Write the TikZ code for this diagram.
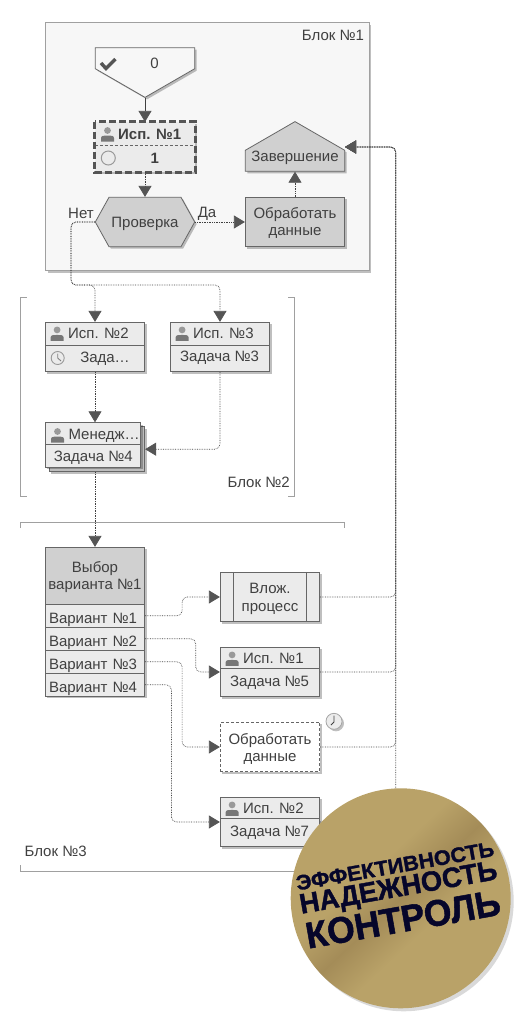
\documentclass[tikz,border=0pt]{standalone}
\usepackage{fontspec}
\setmainfont{Liberation Sans}
\newfontfamily\badgefont{Liberation Sans}[BoldFeatures={FakeBold=1.4}]
\usetikzlibrary{positioning, shapes.symbols, shadows, arrows.meta}

\definecolor{textgray}{HTML}{404040}
\definecolor{linegray}{HTML}{666666}
\definecolor{tipgray}{HTML}{555555}
\definecolor{framegray}{HTML}{A0A0A0}
\definecolor{boxfill}{HTML}{EBEBEB}
\definecolor{darkfill}{HTML}{D0D0D0}
\definecolor{blockfill}{HTML}{F7F7F7}
\definecolor{stackfill}{HTML}{BDBDBD}
\definecolor{badgelight}{HTML}{B9A268}
\definecolor{badgedark}{HTML}{A48C58}
\definecolor{badgetext}{HTML}{06062A}

\pgfdeclareverticalshading{badgeshade}{100bp}{color(0bp)=(badgelight); color(25bp)=(badgelight); color(41bp)=(badgelight); color(50bp)=(badgedark); color(59bp)=(badgelight); color(75bp)=(badgelight); color(100bp)=(badgelight)}

\begin{document}
\begin{tikzpicture}[
    x=1pt, y=-1pt,
    font=\fontsize{15}{17.5}\selectfont,
    text=textgray,
    % Define the shadow of the boxes
    boxshadow/.style={drop shadow={shadow xshift=2pt, shadow yshift=-2pt, opacity=.25, fill=black}},
    % Define the styles of the boxes
    taskbox/.style={rectangle, draw=linegray, fill=boxfill, line width=.8pt, minimum width=99.4pt, minimum height=49.4pt, inner sep=0pt, boxshadow},
    darkbox/.style={taskbox, fill=darkfill},
    varbox/.style={taskbox, minimum height=23pt, text width=92pt, align=left, text height=15pt, text depth=0pt},
    signalbox/.style={signal, draw=linegray, line width=.8pt, signal pointer angle=120, minimum width=99.4pt, minimum height=21pt, inner sep=0pt, boxshadow},
    label/.style={inner sep=0pt, text height=11pt, text depth=3pt},
    textblock/.style={inner sep=0pt, align=center},
    bracket/.style={framegray, line width=.8pt},
    % Define the connectors
    flow/.style={densely dotted, line width=.7pt, draw=textgray, rounded corners=5pt, -{Triangle[length=11pt, width=13pt, color=tipgray]}},
    solidflow/.style={flow, solid},
    badgeline/.style={inner sep=0pt, rotate=10, text=badgetext, font=\badgefont\bfseries},
    personicon/.pic={
        \fill[gray!80] (0,-3.5) circle (3.4);
        \fill[tipgray!80] (-6.5,7.5) -- (-6.5,4) .. controls (-6.5,1.5) and (-3,1.5) .. (0,1.5) .. controls (3,1.5) and (6.5,1.5) .. (6.5,4) -- (6.5,7.5) -- cycle;
    }
]
    \useasboundingbox (0,0) rectangle (527,1023);

    % --- Block 1 ---
    \node[rectangle, draw=framegray, fill=blockfill, line width=.8pt, minimum width=323.4pt, minimum height=248pt, inner sep=0pt, boxshadow] (block1) at (207.4,146.7) {};
    \node[label] (block1label) at (333,36.5) {Блок №1};

    \node[signalbox, signal to=south, anchor=north, fill=blockfill] (start) at (145,47.3) {};
    \draw[tipgray, line width=3.4pt] (101,63) -- (106,68.5) -- (115.5,59);
    \node[label] (startlabel) at (154.5,64) {0};

    \node[taskbox, draw=none] (t1) at (145,147) {};
    \draw[linegray, densely dashed, line width=.6pt] (t1.north west) ++(0,23.4) -- ++(99.4,0);
    \draw[tipgray, line width=3pt, dash pattern=on 7pt off 3pt] (t1.north west) rectangle (t1.south east);
    \pic at (107.5,134) {personicon};
    \node[label, anchor=west, font=\fontsize{15}{17.5}\selectfont\bfseries] (t1who) at (118,135) {Исп. №1};
    \node[circle, draw=gray!80, line width=1pt, minimum size=14pt, inner sep=0pt] (t1mark) at (108.3,158) {};
    \node[label, font=\fontsize{15}{17.5}\selectfont\bfseries] (t1what) at (154.7,159) {1};

    \node[signalbox, signal to=east and west, signal pointer angle=122, fill=darkfill, minimum height=49.4pt] (check) at (145,222) {};
    \node[label] (checklabel) at (145,223) {Проверка};
    \node[darkbox] (work) at (295,222) {};
    \node[textblock] (worklabel) at (295,223) {Обработать\\данные};
    \node[signalbox, signal to=north, anchor=south, fill=darkfill] (finish) at (295,171.7) {};
    \coordinate (finishport) at (345,147);
    \node[label] (finishlabel) at (295,157) {Завершение};
    \node[label] (no) at (81,214) {Нет};
    \node[label] (yes) at (207,213) {Да};

    \draw[solidflow] (start.south) -- (t1.north);
    \draw[flow] (t1.south) -- (check.north);
    \draw[flow] (check.east) -- (work.west);
    \draw[flow] (work.north) -- (finish.south);

    % --- Block 2 ---
    \draw[bracket] (26.7,297.3) -- (20.7,297.3) -- (20.7,496.7) -- (26.7,496.7);
    \draw[bracket] (288.3,297.3) -- (294.3,297.3) -- (294.3,496.7) -- (288.3,496.7);
    \node[label] (block2label) at (258.7,483) {Блок №2};

    % name / centre x / centre y / divider / role / task
    \foreach \name/\cx/\cy/\split/\who/\what in {
        t2/95/347/23/Исп. №2/{},
        t3/220/347/23/Исп. №3/Задача №3,
        t5/270/672/21/Исп. №1/Задача №5,
        t7/270/822/21/Исп. №2/Задача №7} {
        \node[taskbox] (\name) at (\cx,\cy) {};
        \draw[linegray, line width=.8pt] (\name.north west) ++(0,\split) -- ++(99.4,0);
        \path (\name.north west) ++(12.2,11.5) pic {personicon};
        \path (\name.north west) ++(23,12.5) node[label, anchor=west] (\name who) {\who};
        \path (\name.north west) ++(49.7,36) node[label] (\name what) {\what};
    }
    \node[label] (t2what) at (105,358) {Зада…};
    \node[circle, draw=gray!80, fill=boxfill, line width=.9pt, minimum size=13pt, inner sep=0pt] (t2clock) at (57.7,358) {};
    \draw[gray, line width=.9pt] (57.7,353.5) -- (57.7,358) -- (61,361);

    \node[taskbox, fill=stackfill, minimum width=95.4pt, minimum height=45pt] (t4back) at (97,449.2) {};
    \node[taskbox, minimum width=95.4pt, minimum height=44.6pt] (t4) at (93,445) {};
    \draw[linegray, line width=.8pt] (t4.north west) ++(0,22.3) -- ++(95.4,0);
    \pic at (57.5,435) {personicon};
    \node[label, anchor=west] (t4who) at (68.3,435.5) {Менедж…};
    \node[label] (t4what) at (93.3,457) {Задача №4};

    % --- Block 3 ---
    \draw[bracket] (20.7,528) -- (20.7,522.3) -- (344,522.3) -- (344,528);
    \draw[bracket] (20.7,865) -- (20.7,871.3) -- (344,871.3) -- (344,865);
    \node[label] (block3label) at (55.7,852) {Блок №3};

    \node[darkbox, minimum height=57pt] (choice) at (95,575.8) {};
    \node[textblock] (choicelabel) at (95,577) {Выбор\\варианта №1};
    \foreach \i/\cy in {1/615.8, 2/638.8, 3/661.8, 4/684.8} {
        \node[varbox] (v\i) at (95,\cy) {Вариант №\i};
    }

    \node[taskbox] (proc) at (270,597) {};
    \node[textblock] (proclabel) at (270,599) {Влож.\\процесс};
    \draw[linegray, line width=.8pt] (proc.north west) ++(13,0) -- ++(0,49.4);
    \draw[linegray, line width=.8pt] (proc.north east) ++(-13.4,0) -- ++(0,49.4);

    \node[taskbox, fill=white, densely dashed] (work2) at (270,747) {};
    \node[textblock] (work2label) at (270,749) {Обработать\\данные};
    \node[circle, draw=gray!70, fill=gray!15, line width=.8pt, minimum size=16pt, inner sep=0pt, boxshadow] (work2clock) at (334,721.3) {};
    \draw[textgray, line width=.8pt] (334,715.5) -- (334,722) -- (331,725);

    % --- Connectors ---
    \coordinate (nojoin) at (71,285);
    \coordinate (rail) at (395.7,400);
    \draw[flow] (check.west) -| (nojoin) -| (t2.north);
    \draw[flow] (check.west) -| (nojoin) -| (t3.north);
    \draw[flow] (t2.south) -- (t2.south |- t4.north);
    \draw[flow] (t3.south) |- (t4back.east);
    \draw[flow] (t4back.south -| t2.south) -- (t2.south |- choice.north);

    \draw[flow] (v1.east) -- ++(37,0) |- (proc.west);
    \draw[flow] (v2.east) -- ++(50.6,0) |- (t5.west);
    \draw[flow] (v3.east) -- ++(37,0) |- (work2.west);
    \draw[flow] (v4.east) -- ++(26.3,0) |- (t7.west);

    \foreach \from in {proc, t5, work2, t7} {
        \draw[flow] (\from.east) -| (rail) |- (finishport);
    }

    % --- Badge ---
    \node[circle, minimum size=220pt, inner sep=0pt, shade, shading=badgeshade, shading angle=43, drop shadow={shadow xshift=3pt, shadow yshift=-3pt, opacity=.15, fill=black}] (badge) at (400.7,898.3) {};
    \node[badgeline] (line1) at (395,866) {\fontsize{21}{21}\selectfont\scalebox{1.03}[1]{ЭФФЕКТИВНОСТЬ}};
    \node[badgeline] (line2) at (398.7,889.5) {\fontsize{28}{28}\selectfont\scalebox{.98}[1]{НАДЕЖНОСТЬ}};
    \node[badgeline] (line3) at (403,919) {\fontsize{37}{37}\selectfont\scalebox{.96}[1]{КОНТРОЛЬ}};
\end{tikzpicture}
\end{document}
